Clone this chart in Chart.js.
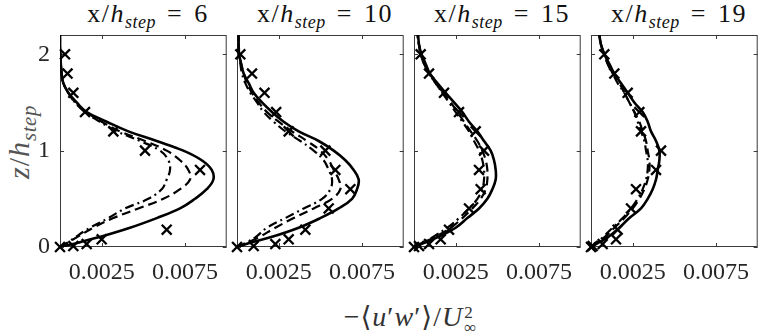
<!DOCTYPE html>
<html><head><meta charset="utf-8">
<script src="https://cdn.jsdelivr.net/npm/chart.js@4.4.0/dist/chart.umd.min.js"></script>
<style>
html,body{margin:0;padding:0;background:#fff;}
#wrap{position:relative;width:769px;height:336px;overflow:hidden;font-family:"Liberation Serif","DejaVu Serif",serif;color:#1a1a1a;}
.panel{position:absolute;top:0;height:300px;}
.title{position:absolute;top:-2px;font-size:26px;letter-spacing:1.5px;white-space:nowrap;transform:translateX(-50%);line-height:32px;color:#111;}
.title i{font-style:italic;}
.sub{font-size:18px;font-style:italic;position:relative;top:6px;letter-spacing:0.5px;}
.eq{margin:0 11px;}
.xlab{position:absolute;top:301px;left:410px;transform:translateX(-50%);font-size:28px;letter-spacing:1px;white-space:nowrap;line-height:32px;color:#333;}
.ylab{position:absolute;left:20px;top:142px;transform:translate(-50%,-50%) rotate(-90deg);font-size:30px;letter-spacing:1px;white-space:nowrap;line-height:32px;color:#555;}
.ylab .sub{font-size:21px;top:7px;}
.stack{display:inline-block;vertical-align:-7px;line-height:15px;font-size:17px;margin-left:1px;letter-spacing:0;}
.stack span{display:block;}
</style>
</head><body>
<div id="wrap">
  <div class="title" style="left:148px">x/<i>h</i><span class="sub">step</span><span class="eq">=</span>6</div>
  <div class="title" style="left:325px">x/<i>h</i><span class="sub">step</span><span class="eq">=</span>10</div>
  <div class="title" style="left:502px">x/<i>h</i><span class="sub">step</span><span class="eq">=</span>15</div>
  <div class="title" style="left:679px">x/<i>h</i><span class="sub">step</span><span class="eq">=</span>19</div>
  <div class="ylab"><i>z</i>/<i>h</i><span class="sub">step</span></div>
  <div class="xlab">−⟨<i>u</i>′<i>w</i>′⟩/<i>U</i><span class="stack"><span>2</span><span>∞</span></span></div>
</div>
<script>
// ---------- data ----------
const stations = ['6', '10', '15', '19'];
const xTicks = [0.0025, 0.0075];
const yTicks = [0, 1, 2];
const zCurve = [0, 0.05, 0.1, 0.2, 0.3, 0.4, 0.5, 0.6, 0.7, 0.8, 0.9, 1.0, 1.1, 1.2, 1.3, 1.4, 1.5, 1.6, 1.7, 1.8, 1.9, 2.0, 2.1, 2.2];
const zExp = [0, 0.01, 0.03, 0.08, 0.18, 0.4, 0.6, 0.8, 1.0, 1.2, 1.4, 1.6, 1.8, 2.0];

// x/h = 6
const solid6   = [0, 0.0012, 0.0023, 0.0042, 0.0058, 0.0072, 0.0081, 0.0088, 0.0092, 0.0091, 0.0085, 0.0074, 0.0058, 0.0041, 0.0028, 0.0016, 0.0010, 0.0005, 0.0002, 0.0001, 0.00005, 0.00002, 0, 0];
const dashed6  = [0, 0.0005, 0.0010, 0.0020, 0.0032, 0.0047, 0.0062, 0.0072, 0.0078, 0.0077, 0.0072, 0.0064, 0.0051, 0.0036, 0.0025, 0.0016, 0.0009, 0.0005, 0.0002, 0.0001, 0.00005, 0.00002, 0, 0];
const dashdot6 = [0, 0.0005, 0.0009, 0.0018, 0.0029, 0.0039, 0.0053, 0.0061, 0.0064, 0.0066, 0.0065, 0.0060, 0.0048, 0.0034, 0.0024, 0.0015, 0.0009, 0.0005, 0.0002, 0.0001, 0.00005, 0.00002, 0, 0];
const exp6     = [0, 0.0008, 0.0016, 0.0025, 0.0064, null, null, 0.0084, 0.0051, 0.0032, 0.0015, 0.0008, 0.00045, 0.0003];

// x/h = 10
const solid10   = [0, 0.0009, 0.0020, 0.0037, 0.0050, 0.0061, 0.0069, 0.0072, 0.0073, 0.0070, 0.0065, 0.0058, 0.0049, 0.0037, 0.0028, 0.0021, 0.0015, 0.0010, 0.0007, 0.0004, 0.00025, 0.00013, 0.0001, 0.0001];
const dashed10  = [0, 0.0007, 0.0013, 0.0023, 0.0034, 0.0046, 0.0057, 0.0062, 0.0061, 0.0058, 0.0055, 0.0050, 0.0042, 0.0033, 0.0025, 0.0018, 0.0013, 0.0009, 0.0006, 0.0004, 0.00025, 0.00013, 0.0001, 0.0001];
const dashdot10 = [0, 0.0006, 0.0011, 0.0018, 0.0029, 0.0040, 0.0051, 0.0056, 0.0057, 0.0055, 0.0052, 0.0046, 0.0038, 0.0029, 0.0022, 0.0016, 0.0012, 0.0008, 0.0005, 0.0003, 0.0002, 0.00012, 0.0001, 0.0001];
const exp10     = [0, 0.0010, 0.0023, 0.0031, 0.0041, 0.0055, 0.0068, 0.0059, 0.0053, 0.0031, 0.00235, 0.00165, 0.0009, 0.0002];

// x/h = 15
const solid15   = [0, 0.0007, 0.0014, 0.0025, 0.0032, 0.0039, 0.0044, 0.0047, 0.0049, 0.0049, 0.0048, 0.0046, 0.0042, 0.0038, 0.0033, 0.0029, 0.0024, 0.0019, 0.0014, 0.00095, 0.0007, 0.00045, 0.0003, 0.00025];
const dashed15  = [0, 0.0006, 0.0012, 0.0022, 0.0029, 0.0035, 0.0040, 0.0043, 0.0044, 0.0044, 0.0043, 0.0041, 0.0038, 0.0034, 0.0030, 0.0026, 0.0022, 0.0017, 0.0013, 0.0009, 0.0006, 0.0004, 0.0003, 0.0002];
const dashdot15 = [0, 0.0006, 0.0011, 0.0020, 0.0027, 0.0033, 0.0038, 0.0041, 0.0042, 0.0042, 0.0041, 0.0039, 0.0036, 0.0033, 0.0029, 0.0025, 0.0021, 0.0017, 0.0013, 0.0009, 0.0006, 0.0004, 0.0003, 0.0002];
const exp15     = [0, 0.0003, 0.0009, 0.0016, 0.0021, 0.0033, 0.0040, 0.0039, 0.0042, 0.0037, 0.0027, 0.0018, 0.0009, 0.0004];

// x/h = 19
const solid19   = [0, 0.0005, 0.0010, 0.0017, 0.0023, 0.0030, 0.0034, 0.0037, 0.0039, 0.0040, 0.0041, 0.0041, 0.0039, 0.0036, 0.0034, 0.0031, 0.0026, 0.0022, 0.0018, 0.0014, 0.0011, 0.0008, 0.0006, 0.0005];
const dashed19  = [0, 0.0004, 0.0008, 0.0014, 0.0020, 0.0025, 0.0029, 0.0032, 0.0034, 0.0035, 0.0035, 0.0034, 0.0033, 0.0031, 0.0029, 0.0026, 0.0023, 0.0020, 0.0017, 0.0013, 0.0010, 0.0008, 0.0006, 0.0005];
const dashdot19 = [0, 0.0004, 0.0007, 0.0013, 0.0019, 0.0024, 0.0028, 0.0031, 0.0033, 0.0034, 0.0034, 0.0033, 0.0032, 0.0030, 0.0028, 0.0026, 0.0023, 0.0020, 0.0016, 0.0013, 0.0010, 0.0008, 0.0006, 0.0005];
const exp19     = [0, 0.0001, 0.0007, 0.0015, 0.0016, 0.0024, 0.0027, 0.0039, 0.0042, 0.0030, 0.0029, 0.0022, 0.0014, 0.0008];

const panels = [
  {solid: solid6,  dashed: dashed6,  dashdot: dashdot6,  exp: exp6},
  {solid: solid10, dashed: dashed10, dashdot: dashdot10, exp: exp10},
  {solid: solid15, dashed: dashed15, dashdot: dashdot15, exp: exp15},
  {solid: solid19, dashed: dashed19, dashdot: dashdot19, exp: exp19}
];

// ---------- layout ----------
const PANEL_LEFT = [60, 237, 414, 591];
const PANEL_W = 176;
const AXIS_W = 60;
const TOP = 35;
const CANVAS_H = 300;
const BOTTOM = 247;
const FONT = "'Liberation Serif', 'DejaVu Serif', serif";

const frame = {
  id: 'frame',
  beforeDatasetsDraw(chart) {
    const {ctx, chartArea: a, scales: {x, y}} = chart;
    ctx.save();
    ctx.strokeStyle = '#3a3a3a';
    ctx.lineWidth = 1;
    ctx.strokeRect(a.left + 0.5, a.top + 0.5, a.width - 1, a.height - 1);
    ctx.beginPath();
    xTicks.forEach(v => {
      const p = Math.round(x.getPixelForValue(v)) + 0.5;
      ctx.moveTo(p, a.bottom); ctx.lineTo(p, a.bottom - 4);
      ctx.moveTo(p, a.top); ctx.lineTo(p, a.top + 4);
    });
    yTicks.forEach(v => {
      const p = Math.round(y.getPixelForValue(v)) + 0.5;
      ctx.moveTo(a.left, p); ctx.lineTo(a.left + 4, p);
      ctx.moveTo(a.right, p); ctx.lineTo(a.right - 4, p);
    });
    ctx.stroke();
    ctx.restore();
  }
};

const wrap = document.getElementById('wrap');
panels.forEach((p, i) => {
  const div = document.createElement('div');
  div.className = 'panel';
  div.style.left = (PANEL_LEFT[i] - AXIS_W) + 'px';
  div.style.width = (AXIS_W + PANEL_W) + 'px';
  div.style.height = CANVAS_H + 'px';
  const cv = document.createElement('canvas');
  div.appendChild(cv);
  wrap.appendChild(div);

  const curve = arr => zCurve.map((z, k) => ({x: arr[k], y: z}));
  const expPts = zExp.map((z, k) => ({x: p.exp[k], y: z})).filter(d => d.x !== null);
  const lineDs = (arr, dash, w) => ({
    data: curve(arr), showLine: true, pointRadius: 0, borderColor: '#000',
    borderWidth: w, borderDash: dash, tension: 0.4, fill: false
  });

  new Chart(cv, {
    type: 'scatter',
    data: {
      datasets: [
        lineDs(p.dashdot, [9, 4, 2, 4], 2.2),
        lineDs(p.dashed, [9, 5], 2.2),
        lineDs(p.solid, [], 2.6),
        {data: expPts, showLine: false, pointStyle: 'crossRot', pointRadius: 7,
         borderColor: '#000', borderWidth: 2.3, clip: false}
      ]
    },
    options: {
      responsive: true, maintainAspectRatio: false, animation: false,
      layout: {padding: {left: 0, right: 0, top: TOP, bottom: 0}},
      plugins: {legend: {display: false}, tooltip: {enabled: false}},
      scales: {
        x: {
          type: 'linear', min: 0, max: 0.01,
          afterBuildTicks: s => { s.ticks = xTicks.map(v => ({value: v})); },
          afterFit: s => { s.height = CANVAS_H - BOTTOM; },
          grid: {display: false, drawTicks: false}, border: {display: false},
          ticks: {font: {family: FONT, size: 24}, color: '#262626', padding: 11,
                  maxRotation: 0, autoSkip: false, callback: v => v.toFixed(4)}
        },
        y: {
          type: 'linear', min: 0, max: 2.2,
          afterBuildTicks: s => { s.ticks = yTicks.map(v => ({value: v})); },
          afterFit: s => { s.width = AXIS_W; },
          grid: {display: false, drawTicks: false}, border: {display: false},
          ticks: {display: i === 0, font: {family: FONT, size: 24}, color: '#262626', padding: 10,
                  callback: v => String(v)}
        }
      }
    },
    plugins: [frame]
  });
});
</script>
</body></html>
